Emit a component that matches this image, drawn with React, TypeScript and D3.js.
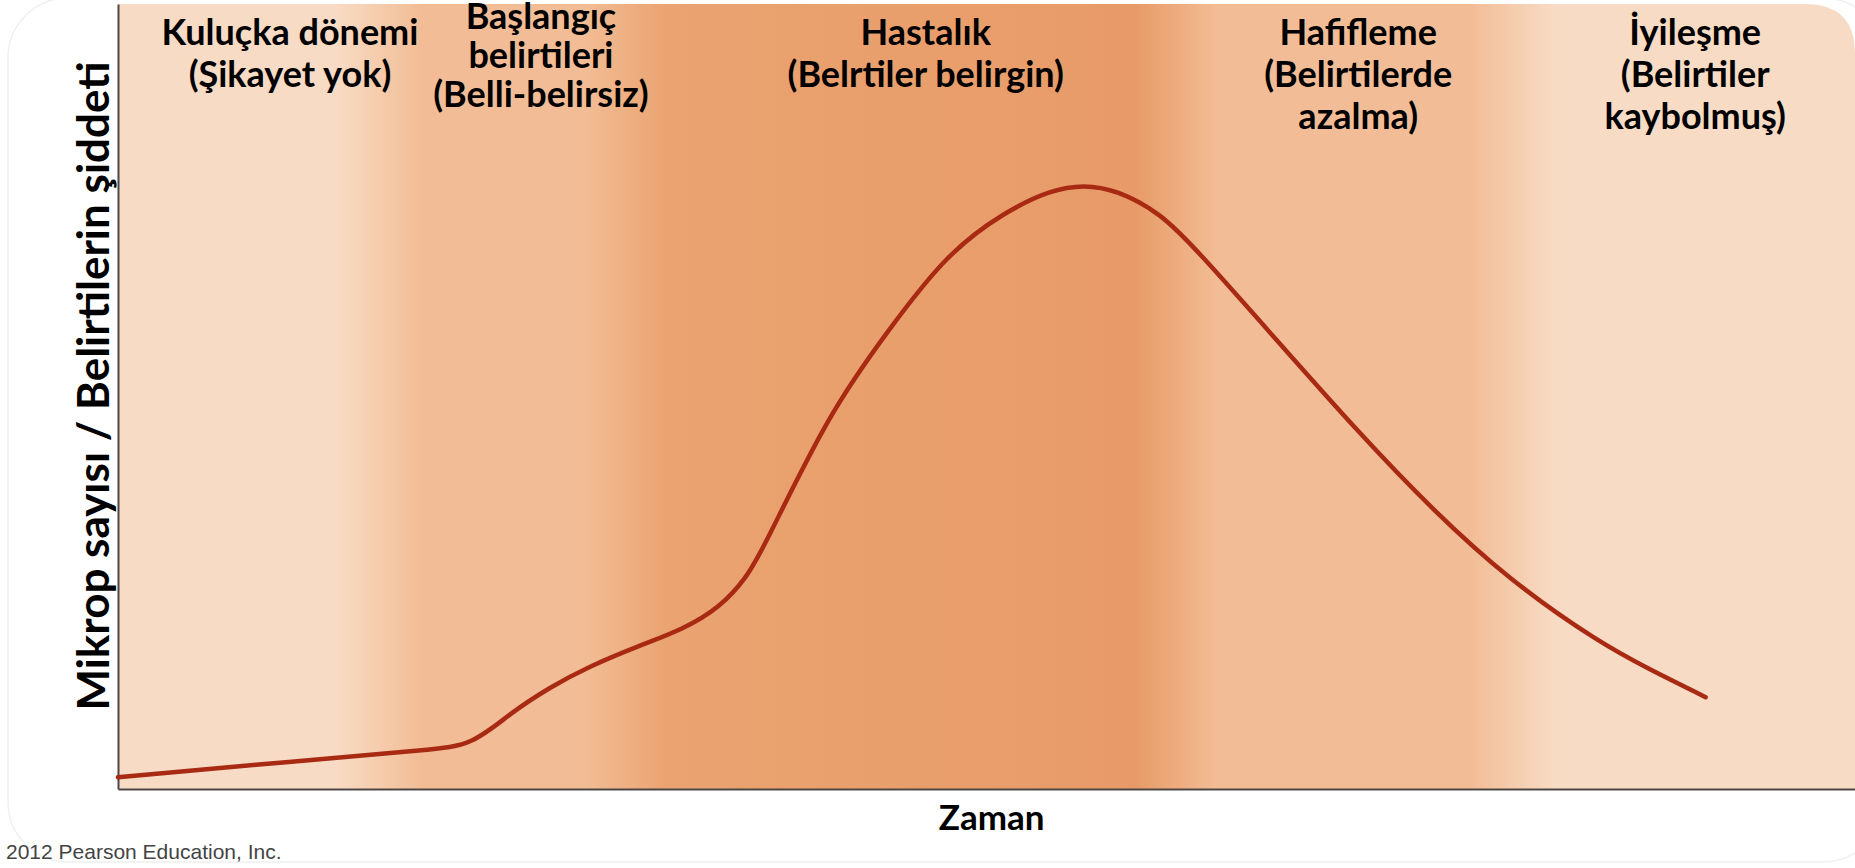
import React, { useEffect, useRef } from 'react';
import * as d3 from 'd3';

// Hastalığın seyri: zaman (0-100) ve şiddet (0-100)
const timePoints = [0, 10.5, 18, 20.4, 22.6, 24.9, 27.0, 30.05, 32.5, 34.7, 36.2, 37.1, 40.9, 44.3, 47.7, 51.1, 53.7, 55.6, 57.5, 60.0, 62.1, 66.7, 71.3, 75.7, 80.1, 85.3, 88.2, 91.4];
const severity = [1.5, 3.6, 5.0, 5.6, 9.7, 13.0, 15.5, 18.3, 20.3, 23.2, 27.0, 30.4, 47.8, 58.3, 68.2, 73.6, 76.3, 77.0, 76.3, 73.4, 68.7, 57.2, 45.7, 35.5, 26.6, 18.6, 15.2, 11.7];

// Dönemler: sınırlar (zaman), yoğunluk seviyesi, etiket merkezi
const phaseEdges = [0, 15.0, 29.2, 61.0, 80.3, 100];
const phaseLevel = [0, 1, 2, 1, 0];
const labelTimes = [9.9, 24.35, 46.5, 71.4, 90.8];
const phaseLabels = [
  ['Kuluçka dönemi', '(Şikayet yok)'],
  ['Başlangıç', 'belirtileri', '(Belli-belirsiz)'],
  ['Hastalık', '(Belrtiler belirgin)'],
  ['Hafifleme', '(Belirtilerde', 'azalma)'],
  ['İyileşme', '(Belirtiler', 'kaybolmuş)'],
];

const yTitle = 'Mikrop sayısı / Belirtilerin şiddeti';
const xTitle = 'Zaman';
const credit = '2012 Pearson Education, Inc.';

const W = 1855;
const H = 868;
const FONT = "Lato, 'Open Sans', sans-serif";

export default function App() {
  const svgRef = useRef<SVGSVGElement>(null);

  useEffect(() => {
    if (!svgRef.current) return;
    const svg = d3.select(svgRef.current);
    svg.selectAll('*').remove();

    const margin = { top: 4, right: 0, bottom: 79, left: 118 };
    const x0 = margin.left;
    const x1 = W - margin.right;
    const y0 = margin.top;
    const y1 = H - margin.bottom;

    const xScale = d3.scaleLinear().domain([0, 100]).range([x0, x1]);
    const yScale = d3.scaleLinear().domain([0, 100]).range([y1, y0]);
    const colorScale = d3.scaleOrdinal<number, string>()
      .domain([0, 1, 2])
      .range(['#f8dbc4', '#f2bd96', '#eaa16e']);

    // soluk slayt çerçevesi
    svg.append('rect')
      .attr('x', 8).attr('y', -2)
      .attr('width', W + 20).attr('height', H - 4)
      .attr('rx', 60)
      .attr('fill', 'none')
      .attr('stroke', '#f0f0f0')
      .attr('stroke-width', 1.5);

    // dönemlere göre arka plan geçişi
    const defs = svg.append('defs');
    const grad = defs.append('linearGradient')
      .attr('id', 'phaseGrad')
      .attr('gradientUnits', 'userSpaceOnUse')
      .attr('x1', x0).attr('x2', x1)
      .attr('y1', 0).attr('y2', 0);
    const blend = 2.4;
    phaseLevel.forEach((lvl, i) => {
      const a = phaseEdges[i];
      const b = phaseEdges[i + 1];
      const start = i === 0 ? a : a + blend;
      const end = i === phaseLevel.length - 1 ? b : b - blend;
      const c = colorScale(lvl);
      grad.append('stop').attr('offset', `${start}%`).attr('stop-color', lvl === 2 ? '#eaa371' : c);
      grad.append('stop').attr('offset', `${end}%`).attr('stop-color', lvl === 2 ? '#e89b68' : c);
    });

    const r = 50;
    svg.append('path')
      .attr('d', `M${x0},${y1} L${x0},${y0} L${x1 - r},${y0} Q${x1},${y0} ${x1},${y0 + r} L${x1},${y1} Z`)
      .attr('fill', 'url(#phaseGrad)');

    // eksenler (çentiksiz)
    svg.append('g')
      .attr('transform', `translate(0,${y1})`)
      .call(d3.axisBottom(xScale).tickValues([]).tickSizeOuter(0))
      .select('.domain')
      .attr('stroke', '#4d4845')
      .attr('stroke-width', 2);
    svg.append('g')
      .attr('transform', `translate(${x0},0)`)
      .call(d3.axisLeft(yScale).tickValues([]).tickSizeOuter(0))
      .select('.domain')
      .attr('stroke', '#4d4845')
      .attr('stroke-width', 2);

    // eğri
    const pts = timePoints.map((t, i) => [t, severity[i]] as [number, number]);
    const line = d3.line<[number, number]>()
      .x(d => xScale(d[0]))
      .y(d => yScale(d[1]))
      .curve(d3.curveBasis);
    svg.append('path')
      .datum(pts)
      .attr('d', line)
      .attr('fill', 'none')
      .attr('stroke', '#a82a12')
      .attr('stroke-width', 4.5)
      .attr('stroke-linecap', 'round');

    // dönem etiketleri
    phaseLabels.forEach((lines, i) => {
      const firstBase = i === 1 ? 29 : 45;
      const step = i === 1 ? 39 : 42;
      const t = svg.append('text')
        .attr('x', xScale(labelTimes[i]))
        .attr('text-anchor', 'middle')
        .attr('font-family', FONT)
        .attr('font-weight', 700)
        .attr('font-size', 36)
        .attr('fill', '#000');
      lines.forEach((ln, j) => {
        t.append('tspan')
          .attr('x', xScale(labelTimes[i]))
          .attr('y', firstBase + j * step)
          .text(ln);
      });
    });

    // eksen başlıkları
    svg.append('text')
      .attr('transform', `translate(109,386) rotate(-90)`)
      .attr('text-anchor', 'middle')
      .attr('font-family', FONT)
      .attr('font-weight', 700)
      .attr('font-size', 44)
      .attr('fill', '#000')
      .text(yTitle);

    svg.append('text')
      .attr('x', xScale(50.3))
      .attr('y', 830)
      .attr('text-anchor', 'middle')
      .attr('font-family', FONT)
      .attr('font-weight', 700)
      .attr('font-size', 35)
      .attr('fill', '#000')
      .text(xTitle);

    svg.append('text')
      .attr('x', 6)
      .attr('y', 859)
      .attr('font-family', "'Liberation Sans', Arial, sans-serif")
      .attr('font-size', 21)
      .attr('fill', '#444')
      .text(credit);
  }, []);

  return (
    <svg
      ref={svgRef}
      width={W}
      height={H}
      style={{ position: 'absolute', left: 0, top: 0, display: 'block', background: '#fff' }}
    />
  );
}
